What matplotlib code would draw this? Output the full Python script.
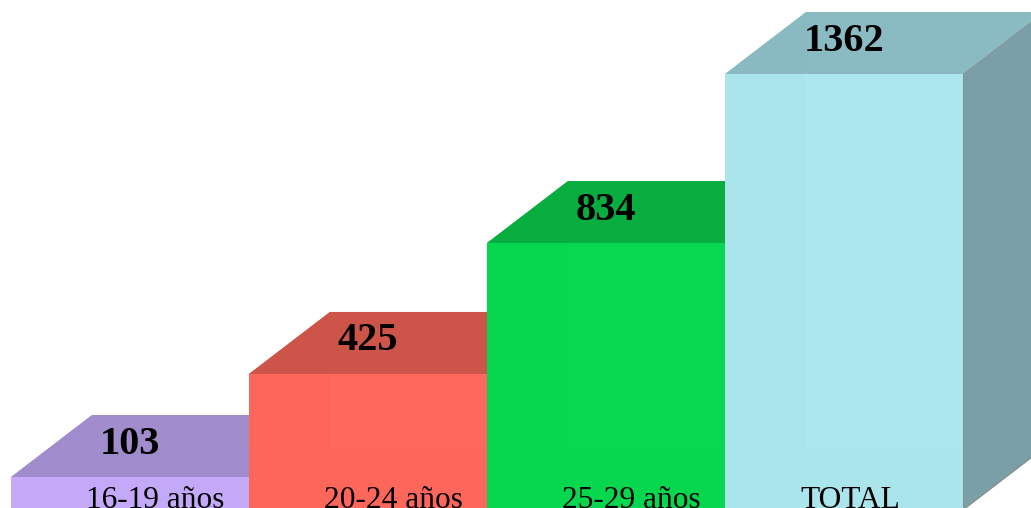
import matplotlib
matplotlib.use("Agg")
import matplotlib.pyplot as plt
from matplotlib.patches import Polygon
import matplotlib.colors as mcolors

categories = ["16-19 años", "20-24 años", "25-29 años", "TOTAL"]
values = [103, 425, 834, 1362]
front_colors = ["#C5AAFB", "#FF685C", "#07D84F", "#ACE6EE"]
top_colors = ["#A08BCB", "#CC5449", "#09AC3F", "#8ABAC1"]
side_colors = ["#8670B0", "#B04438", "#07913A", "#7A9FA7"]

W_PX, H_PX, DPI = 1031, 508, 100
fig = plt.figure(figsize=(W_PX / DPI, H_PX / DPI), dpi=DPI)
ax = fig.add_axes([0, 0, 1, 1])

bar_px = 238.0
left_px = 11.0
base_px = 510.0
scale = 0.3201  # px per unit
ax.set_xlim(-left_px / bar_px, (W_PX - left_px) / bar_px)
ax.set_ylim(-(H_PX - base_px) / scale, base_px / scale)
ax.axis("off")

dx = 81.0 / bar_px
dy = 62.0 / scale


def darken(c, f):
    r, g, b = mcolors.to_rgb(c)
    return (r * f, g * f, b * f)


for i, (v, fc, tc, sc) in enumerate(zip(values, front_colors, top_colors, side_colors)):
    x = i
    z = i * 10
    inner = darken(fc, 0.93)
    # floor
    ax.add_patch(Polygon([(x, 0), (x + 1, 0), (x + 1 + dx, dy), (x + dx, dy)],
                         closed=True, facecolor=inner, edgecolor="none", zorder=z))
    # back wall
    ax.add_patch(Polygon([(x + dx, dy), (x + 1 + dx, dy), (x + 1 + dx, v + dy), (x + dx, v + dy)],
                         closed=True, facecolor=darken(fc, 1.0), edgecolor="none", zorder=z + 1))
    # left wall
    ax.add_patch(Polygon([(x, 0), (x + dx, dy), (x + dx, v + dy), (x, v)],
                         closed=True, facecolor=inner, edgecolor="none", zorder=z + 2))
    # right side
    ax.add_patch(Polygon([(x + 1, 0), (x + 1 + dx, dy), (x + 1 + dx, v + dy), (x + 1, v)],
                         closed=True, facecolor=sc, edgecolor="#8a8a8a" if i == 3 else "none",
                         linewidth=0.8, zorder=z + 3))
    # top
    ax.add_patch(Polygon([(x, v), (x + 1, v), (x + 1 + dx, v + dy), (x + dx, v + dy)],
                         closed=True, facecolor=tc, edgecolor="none", alpha=0.97, zorder=z + 4))
    # front
    ax.add_patch(Polygon([(x, 0), (x + 1, 0), (x + 1, v), (x, v)],
                         closed=True, facecolor=fc, edgecolor="none", alpha=0.94, zorder=z + 5))
    # value label on top face
    ax.text(x + 0.5, v + 33 / scale, str(v), ha="center", va="center",
            fontsize=29, fontweight="bold", family="Liberation Serif",
            color="black", zorder=z + 6)
    # category label
    ax.text(x + 75 / bar_px, 6.5, categories[i], ha="left", va="baseline",
            fontsize=22.6, family="Liberation Serif", color="black", zorder=z + 6)

fig.savefig("out.png", dpi=DPI)
